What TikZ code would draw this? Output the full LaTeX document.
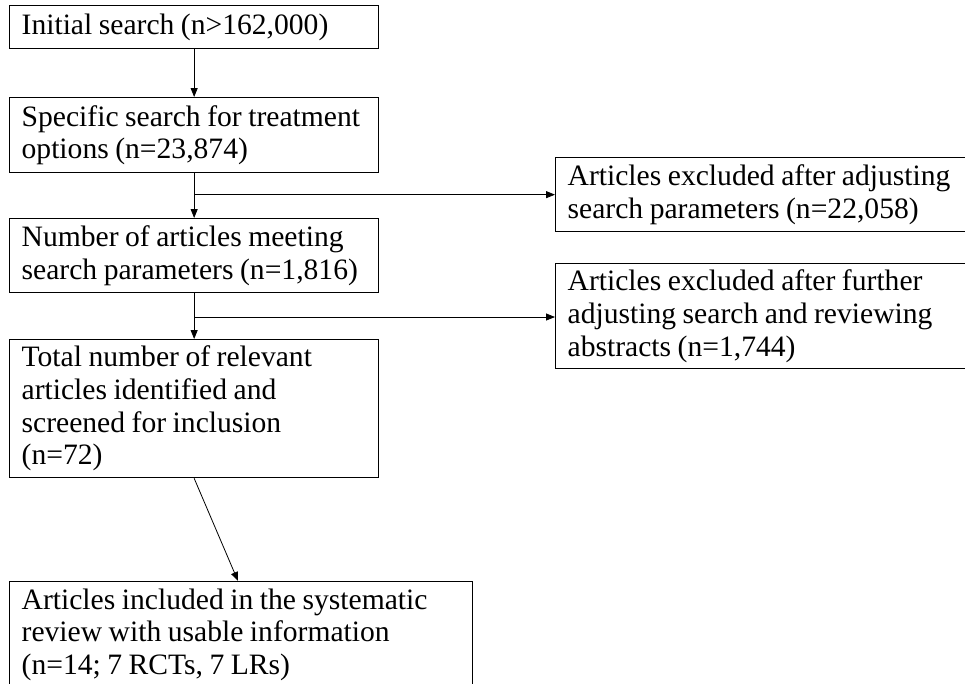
\documentclass[tikz,border=0pt]{standalone}
\usepackage{fontspec}
\setmainfont{Liberation Serif}
\usetikzlibrary{arrows.meta}
\newcommand{\tightspaces}{\setlength{\spaceskip}{0.22em}}
\begin{document}
\begin{tikzpicture}[x=1pt,y=-1pt,
  box/.style={draw=black, line width=1.3pt, anchor=north west, inner xsep=12pt, inner ysep=0pt,
    align=left, font=\fontsize{29.6}{32.7}\selectfont, execute at begin node=\tightspaces},
  arr/.style={draw=black, line width=0.8pt, -{Triangle[length=9pt,width=7pt]}}]
\useasboundingbox (0,0) rectangle (965,683);
\node[box, minimum width=369pt, minimum height=43pt, text width=345pt] (b1) at (9,5) {\mbox{Initial search (n>162,000)}};
\node[box, minimum width=369pt, minimum height=75pt, text width=345pt] (b2) at (9,97) {\mbox{Specific search for treatment}\\\mbox{options (n=23,874)}};
\node[box, minimum width=369pt, minimum height=74pt, text width=345pt] (b3) at (9,218) {\mbox{Number of articles meeting}\\\mbox{search parameters (n=1,816)}};
\node[box, minimum width=369pt, minimum height=138pt, text width=345pt] (b4) at (9,339) {\mbox{Total number of relevant}\\\mbox{articles identified and}\\\mbox{screened for inclusion}\\\mbox{(n=72)}};
\node[box, minimum width=463pt, minimum height=106pt, text width=439pt] (b5) at (9,581) {\mbox{Articles included in the systematic}\\\mbox{review with usable information}\\\mbox{(n=14; 7 RCTs, 7 LRs)}};
\node[box, minimum width=420pt, minimum height=74pt, text width=396pt] (bA) at (555,157) {\mbox{Articles excluded after adjusting}\\\mbox{search parameters (n=22,058)}};
\node[box, minimum width=420pt, minimum height=105pt, text width=396pt] (bB) at (555,263) {\mbox{Articles excluded after further}\\\mbox{adjusting search and reviewing}\\\mbox{abstracts (n=1,744)}};
\coordinate (j1) at (b2.south |- bA.west);
\coordinate (j2) at (b3.south |- 0,317);
\coordinate (e5) at (238,581);
\draw[arr] (b1.south) -- (b2.north);
\draw[arr] (b2.south) -- (b3.north);
\draw[arr] (b3.south) -- (b4.north);
\draw[arr] (j1) -- (bA.west);
\draw[arr] (j2) -- (j2 -| bB.west);
\draw[arr] (b4.south) -- (e5);
\end{tikzpicture}
\end{document}
